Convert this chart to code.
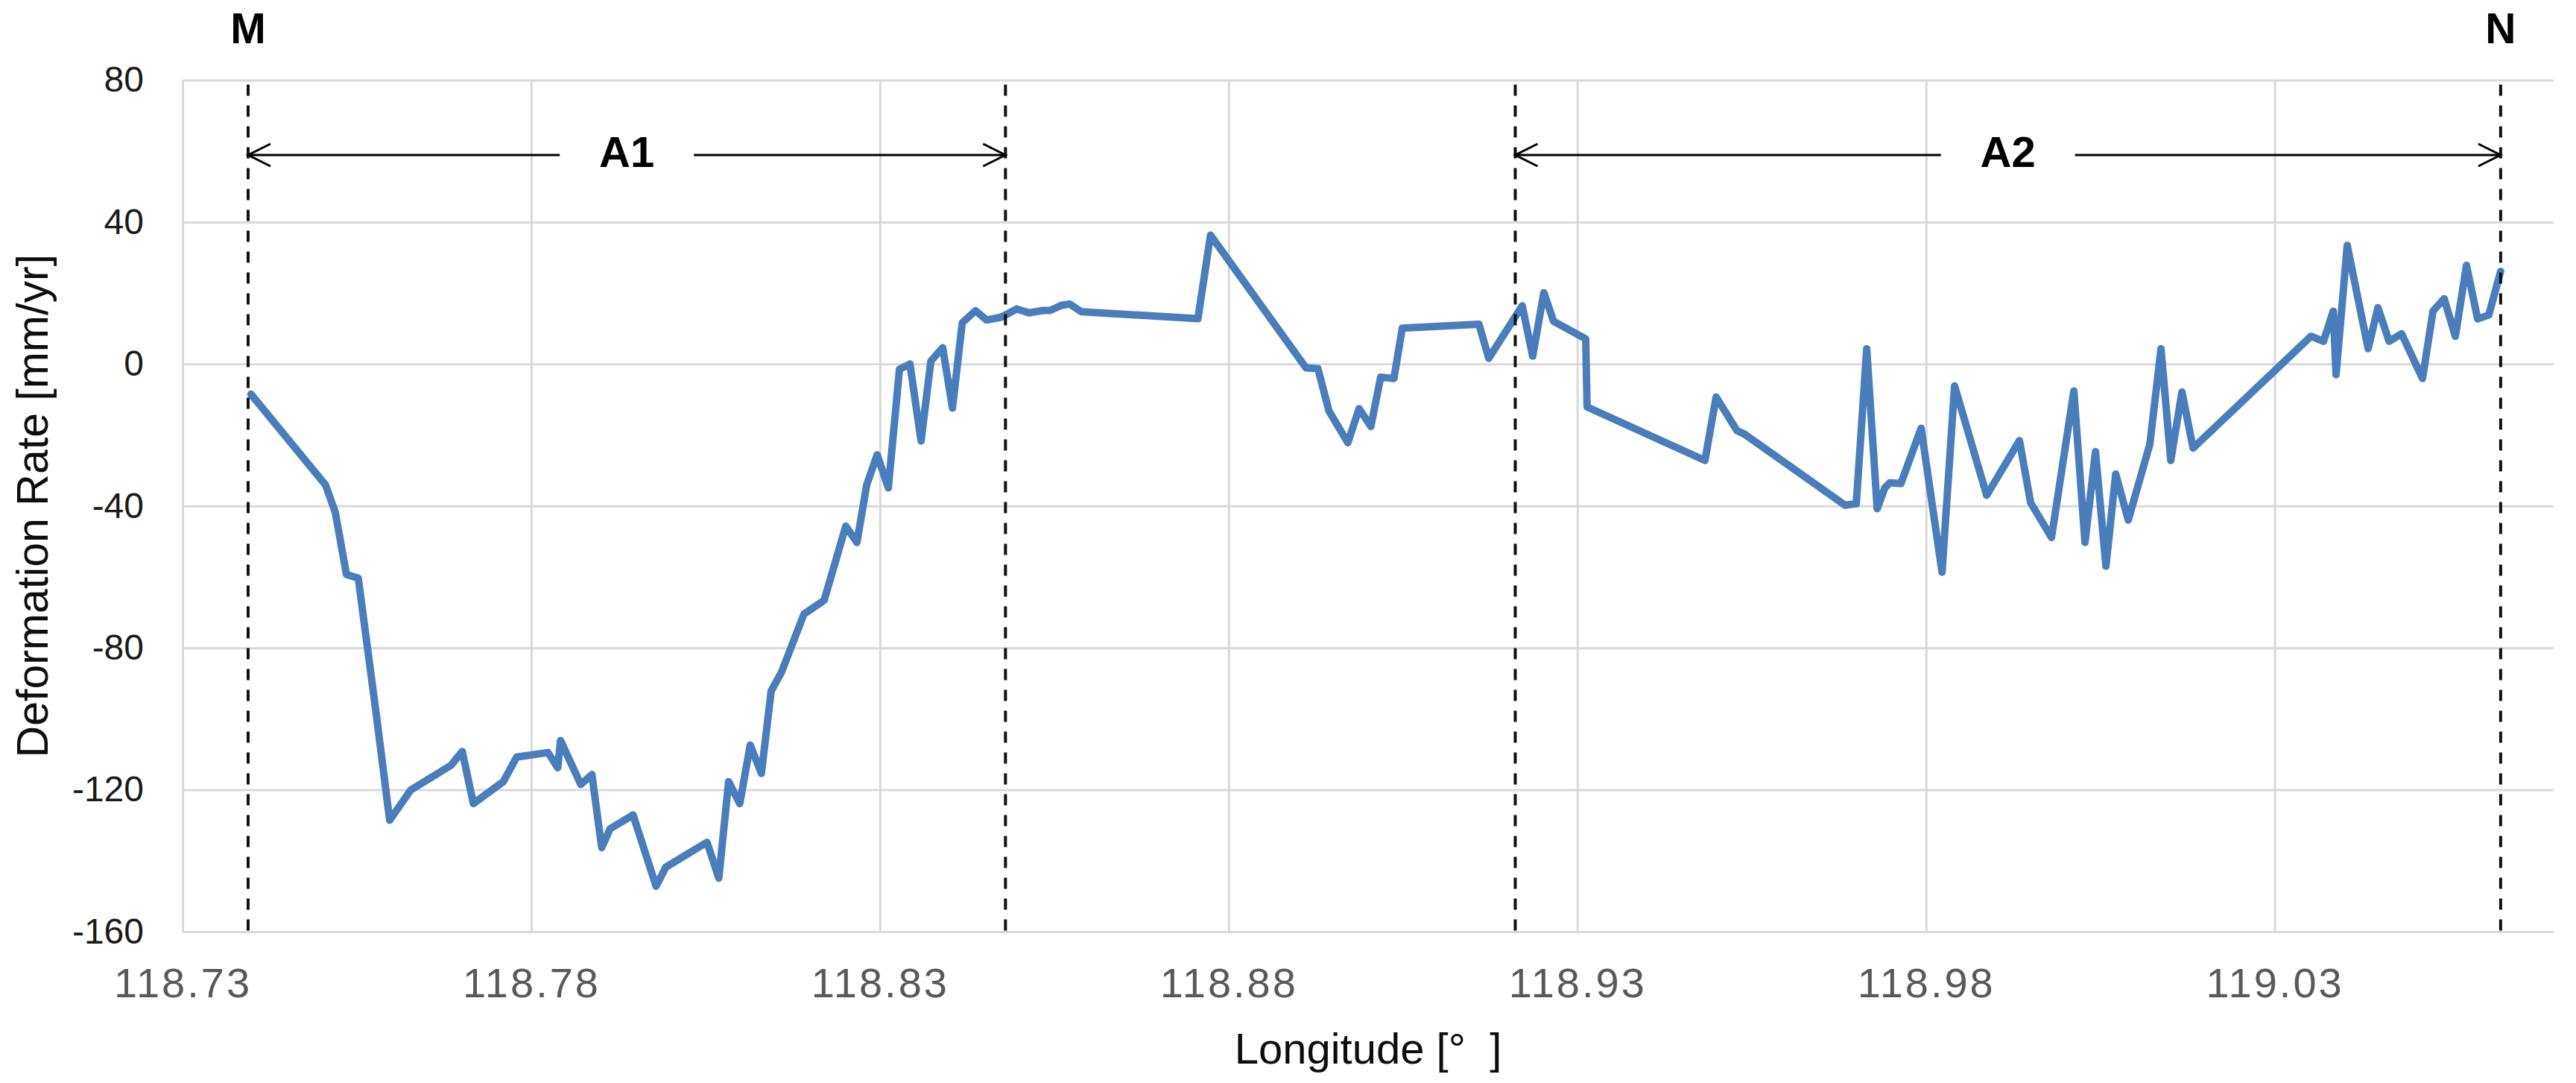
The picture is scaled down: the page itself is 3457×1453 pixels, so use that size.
<!DOCTYPE html>
<html>
<head>
<meta charset="utf-8">
<script src="https://cdn.jsdelivr.net/npm/d3@7"></script>
<style>
  body { margin: 0; background: #fff; }
  svg { display: block; font-family: 'Liberation Sans', Arial, sans-serif; }
</style>
</head>
<body>
<svg id="chart"></svg>
<script>
const { scaleLinear, axisBottom, axisLeft, line, select } = d3;

// profile M-N
const longitudes = [
  118.7398, 118.7505, 118.7519, 118.7535, 118.7552, 118.7578, 118.7597, 118.7627,
  118.7685, 118.7701, 118.7717, 118.7760, 118.7779, 118.7824, 118.7838, 118.7842,
  118.7871, 118.7887, 118.7901, 118.7913, 118.7946, 118.7979, 118.7993, 118.8052,
  118.8069, 118.8083, 118.8099, 118.8114, 118.8130, 118.8144, 118.8159, 118.8191,
  118.8220, 118.8251, 118.8267, 118.8281, 118.8296, 118.8312, 118.8328, 118.8343,
  118.8359, 118.8373, 118.8390, 118.8404, 118.8418, 118.8437, 118.8453, 118.8474,
  118.8496, 118.8514, 118.8522, 118.8534, 118.8544, 118.8560, 118.8572, 118.8589,
  118.8756, 118.8774, 118.8911, 118.8928, 118.8944, 118.8971, 118.8987, 118.9004,
  118.9018, 118.9037, 118.9049, 118.9159, 118.9173, 118.9221, 118.9236, 118.9252,
  118.9266, 118.9312, 118.9314, 118.9483, 118.9499, 118.9529, 118.9540, 118.9684,
  118.9700, 118.9715, 118.9730, 118.9741, 118.9748, 118.9764, 118.9793, 118.9823,
  118.9841, 118.9887, 118.9934, 118.9950, 118.9980, 119.0012, 119.0028, 119.0043,
  119.0058, 119.0072, 119.0090, 119.0121, 119.0137, 119.0151, 119.0167, 119.0183,
  119.0352, 119.0370, 119.0384, 119.0388, 119.0404, 119.0434, 119.0448, 119.0464,
  119.0482, 119.0512, 119.0527, 119.0543, 119.0559, 119.0575, 119.0591, 119.0607,
  119.0624
];
const rates = [
  -8.5, -34.1, -41.8, -59.3, -60.4, -99.1, -128.6, -120.1,
  -113.1, -109.2, -123.9, -117.7, -110.8, -109.5, -113.8, -106.1,
  -118.5, -115.7, -136.3, -131.0, -127.1, -147.2, -141.8, -134.8,
  -144.9, -117.7, -123.9, -107.4, -115.4, -92.2, -86.8, -70.5,
  -66.6, -45.7, -50.3, -34.1, -25.6, -34.9, -1.5, 0.0,
  -21.7, 0.8, 4.6, -12.4, 11.6, 15.0, 12.4, 13.2,
  15.5, 14.4, 14.7, 15.1, 15.1, 16.5, 16.9, 14.7,
  12.8, 36.3, -1.1, -1.3, -13.3, -22.2, -12.6, -17.6,
  -3.7, -4.1, 10.1, 11.2, 1.6, 16.4, 2.2, 20.1,
  12.0, 7.1, -12.1, -27.2, -9.3, -18.8, -19.8, -39.8,
  -39.4, 4.3, -40.8, -34.9, -33.5, -33.7, -18.1, -58.7,
  -6.2, -37.0, -21.6, -39.1, -48.9, -7.6, -50.3, -24.7,
  -57.0, -31.0, -44.0, -22.6, 4.3, -27.2, -7.9, -23.7,
  7.8, 6.4, 14.9, -3.0, 33.4, 4.3, 15.9, 6.4,
  8.5, -4.1, 14.9, 18.4, 7.8, 27.8, 12.7, 13.8,
  26.1
];

const xTicks = [118.73, 118.78, 118.83, 118.88, 118.93, 118.98, 119.03];
const yTicks = [-160, -120, -80, -40, 0, 40, 80];

// dashed section bounds and their names
const markerNames = ['M', 'N'];
const markerLons = [118.7394, 119.0624];
const zoneNames = ['A1', 'A2'];
const zoneStarts = [118.7394, 118.9211];
const zoneEnds = [118.8480, 119.0624];

const width = 3457;
const height = 1453;
const margin = { top: 107.5, right: 30, bottom: 203, left: 245 };

const svg = select('#chart').attr('width', width).attr('height', height);

const xScale = scaleLinear()
  .domain([118.73, 119.07])
  .range([margin.left, width - margin.right]);

const yScale = scaleLinear()
  .domain([-160, 80])
  .range([height - margin.bottom, margin.top]);

const plotW = xScale.range()[1] - xScale.range()[0];
const plotH = yScale.range()[0] - yScale.range()[1];

// horizontal grid + y labels
const yAxisG = svg.append('g')
  .attr('transform', `translate(${margin.left},0)`)
  .call(
    axisLeft(yScale)
      .tickValues(yTicks)
      .tickFormat((d) => String(d))
      .tickSize(-plotW)
      .tickPadding(52)
  );
yAxisG.select('.domain').remove();
yAxisG.selectAll('.tick line').attr('stroke', '#d9d9d9').attr('stroke-width', 3);
yAxisG.selectAll('.tick text')
  .attr('fill', '#1a1a1a')
  .attr('font-size', 48)
  .attr('font-family', "'Liberation Sans', Arial, sans-serif");

// vertical grid + x labels
const xAxisG = svg.append('g')
  .attr('transform', `translate(0,${yScale(-160)})`)
  .call(
    axisBottom(xScale)
      .tickValues(xTicks)
      .tickFormat((d) => d.toFixed(2))
      .tickSize(-plotH)
      .tickPadding(48)
  );
xAxisG.select('.domain').remove();
xAxisG.selectAll('.tick line').attr('stroke', '#d9d9d9').attr('stroke-width', 3);
xAxisG.selectAll('.tick text')
  .attr('fill', '#595959')
  .attr('font-size', 56)
  .attr('letter-spacing', 3)
  .attr('font-family', "'Liberation Sans', Arial, sans-serif");

// the profile
const points = longitudes.map((lon, i) => ({ lon, rate: rates[i] }));

const lineGenerator = line()
  .x((d) => xScale(d.lon))
  .y((d) => yScale(d.rate));

svg.append('path')
  .datum(points)
  .attr('d', lineGenerator)
  .attr('fill', 'none')
  .attr('stroke', '#4a7ebb')
  .attr('stroke-width', 10)
  .attr('stroke-linejoin', 'round')
  .attr('stroke-linecap', 'round');

// dashed section lines
const dashLons = [markerLons[0], zoneEnds[0], zoneStarts[1], markerLons[1]];
svg.selectAll('line.dash')
  .data(dashLons)
  .join('line')
  .attr('class', 'dash')
  .attr('x1', (d) => xScale(d))
  .attr('x2', (d) => xScale(d))
  .attr('y1', yScale(80) + 6)
  .attr('y2', yScale(-160))
  .attr('stroke', '#111')
  .attr('stroke-width', 4)
  .attr('stroke-dasharray', '15,13');

svg.selectAll('text.marker')
  .data(markerNames)
  .join('text')
  .attr('class', 'marker')
  .attr('x', (d, i) => xScale(markerLons[i]))
  .attr('y', 58)
  .attr('text-anchor', 'middle')
  .attr('font-weight', 'bold')
  .attr('font-size', 57)
  .attr('fill', '#000')
  .text((d) => d);

// double arrows with zone labels
const arrowY = 208;
const gap = 90;
const head = 30;
const half = 15;

zoneNames.forEach((name, i) => {
  const x0 = xScale(zoneStarts[i]);
  const x1 = xScale(zoneEnds[i]);
  const mid = (x0 + x1) / 2;
  const g = svg.append('g')
    .attr('fill', 'none')
    .attr('stroke', '#000')
    .attr('stroke-width', 3);

  g.append('line').attr('x1', x0).attr('x2', mid - gap).attr('y1', arrowY).attr('y2', arrowY);
  g.append('line').attr('x1', mid + gap).attr('x2', x1).attr('y1', arrowY).attr('y2', arrowY);
  g.append('path').attr('d', `M${x0 + head},${arrowY - half}L${x0},${arrowY}L${x0 + head},${arrowY + half}`);
  g.append('path').attr('d', `M${x1 - head},${arrowY - half}L${x1},${arrowY}L${x1 - head},${arrowY + half}`);

  svg.append('text')
    .attr('x', mid)
    .attr('y', arrowY + 16)
    .attr('text-anchor', 'middle')
    .attr('font-weight', 'bold')
    .attr('font-size', 58)
    .attr('fill', '#000')
    .text(name);
});

// axis titles
svg.append('text')
  .attr('x', (xScale.range()[0] + xScale.range()[1]) / 2)
  .attr('y', 1427)
  .attr('text-anchor', 'middle')
  .attr('font-size', 58)
  .attr('fill', '#0d0d0d')
  .text('Longitude [°  ]')
  .style('white-space', 'pre');

svg.append('text')
  .attr('transform', `translate(64,${(yScale.range()[0] + yScale.range()[1]) / 2}) rotate(-90)`)
  .attr('text-anchor', 'middle')
  .attr('font-size', 59)
  .attr('fill', '#0d0d0d')
  .text('Deformation Rate [mm/yr]');
</script>
</body>
</html>
